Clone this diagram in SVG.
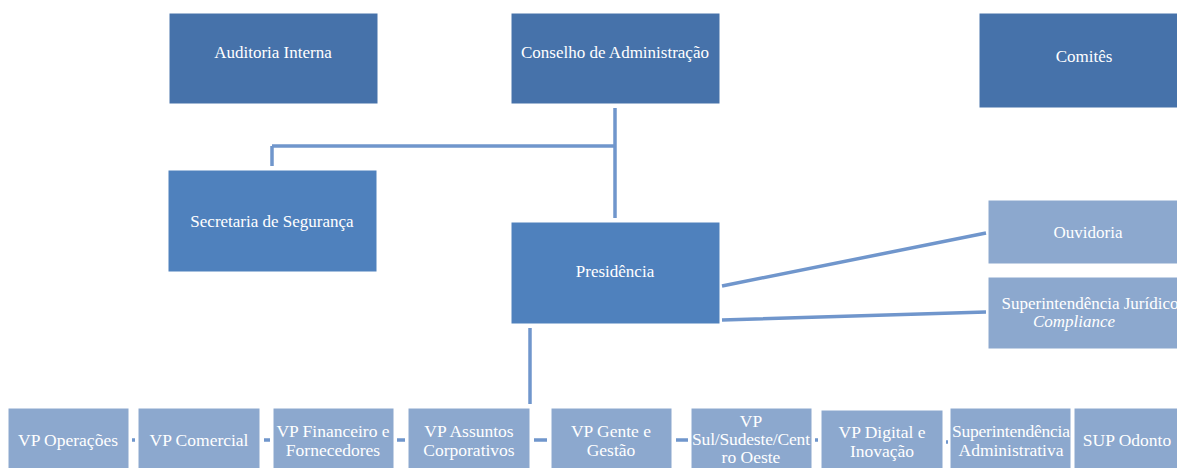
<svg xmlns="http://www.w3.org/2000/svg" width="1177" height="468" viewBox="0 0 1177 468">
<style>
text{font-family:'Liberation Serif','Times New Roman','DejaVu Serif',serif;fill:#fff;text-anchor:middle;font-size:17px}
.dk{fill:#4672AA;stroke:#fff;stroke-width:1}
.md{fill:#4F81BD;stroke:#fff;stroke-width:1}
.lt{fill:#8CA8CE;stroke:#fff;stroke-width:1}
.bt{font-size:17.5px}
.ln{stroke:#7096CC;stroke-width:3.5;fill:none}
</style>
<rect width="1177" height="468" fill="#fff"/>
<g id="connectors">
<path class="ln" d="M615 108V218M272 146H615M272 146V166"/>
<path class="ln" d="M722 286L986 233M722 320L986 312"/>
<path class="ln" d="M530 328V404"/>
<path class="ln" d="M132 440H135M264 440H270M397 440H405M534 440H547M676 440H688M815 440H818M946 442H948"/>
</g>
<g id="auditoria"><rect class="dk" x="169" y="13" width="209" height="91"/><text x="273" y="58">Auditoria Interna</text></g>
<g id="conselho"><rect class="dk" x="511" y="13" width="209" height="91"/><text x="615" y="58">Conselho de Administração</text></g>
<g id="comites"><rect class="dk" x="979" y="13" width="210" height="95"/><text x="1084" y="62">Comitês</text></g>
<g id="secretaria"><rect class="md" x="168" y="170" width="209" height="102"/><text x="272" y="227">Secretaria de Segurança</text></g>
<g id="presidencia"><rect class="md" x="511" y="222" width="209" height="102"/><text x="615" y="277">Presidência</text></g>
<g id="ouvidoria"><rect class="lt" x="988" y="200" width="200" height="64"/><text x="1088" y="238">Ouvidoria</text></g>
<g id="juridico"><rect class="lt" x="988" y="277" width="200" height="72"/><text x="1090" y="309">Superintendência Jurídico</text><text x="1074" y="327" font-style="italic">Compliance</text></g>
<g id="vp-operacoes"><rect class="lt" x="8" y="408" width="121" height="62"/><text class="bt" x="68" y="446">VP Operações</text></g>
<g id="vp-comercial"><rect class="lt" x="138" y="408" width="122" height="62"/><text class="bt" x="199" y="446">VP Comercial</text></g>
<g id="vp-financeiro"><rect class="lt" x="273" y="408" width="121" height="62"/><text class="bt" x="333" y="437">VP Financeiro e</text><text class="bt" x="333" y="456">Fornecedores</text></g>
<g id="vp-assuntos"><rect class="lt" x="408" y="408" width="122" height="62"/><text class="bt" x="469" y="437">VP Assuntos</text><text class="bt" x="469" y="456">Corporativos</text></g>
<g id="vp-gente"><rect class="lt" x="551" y="408" width="121" height="62"/><text class="bt" x="611" y="437">VP Gente e</text><text class="bt" x="611" y="456">Gestão</text></g>
<g id="vp-sul"><rect class="lt" x="691" y="408" width="121" height="62"/><text class="bt" x="751" y="427">VP</text><text class="bt" x="751" y="445" textLength="118">Sul/Sudeste/Cent</text><text class="bt" x="751" y="463">ro Oeste</text></g>
<g id="vp-digital"><rect class="lt" x="821" y="410" width="122" height="60"/><text class="bt" x="882" y="438">VP Digital e</text><text class="bt" x="882" y="457">Inovação</text></g>
<g id="sup-adm"><rect class="lt" x="950" y="408" width="121" height="62"/><text class="bt" x="1011" y="437" textLength="118">Superintendência</text><text class="bt" x="1011" y="456">Administrativa</text></g>
<g id="sup-odonto"><rect class="lt" x="1074" y="408" width="110" height="62"/><text class="bt" x="1127" y="446">SUP Odonto</text></g>
</svg>
